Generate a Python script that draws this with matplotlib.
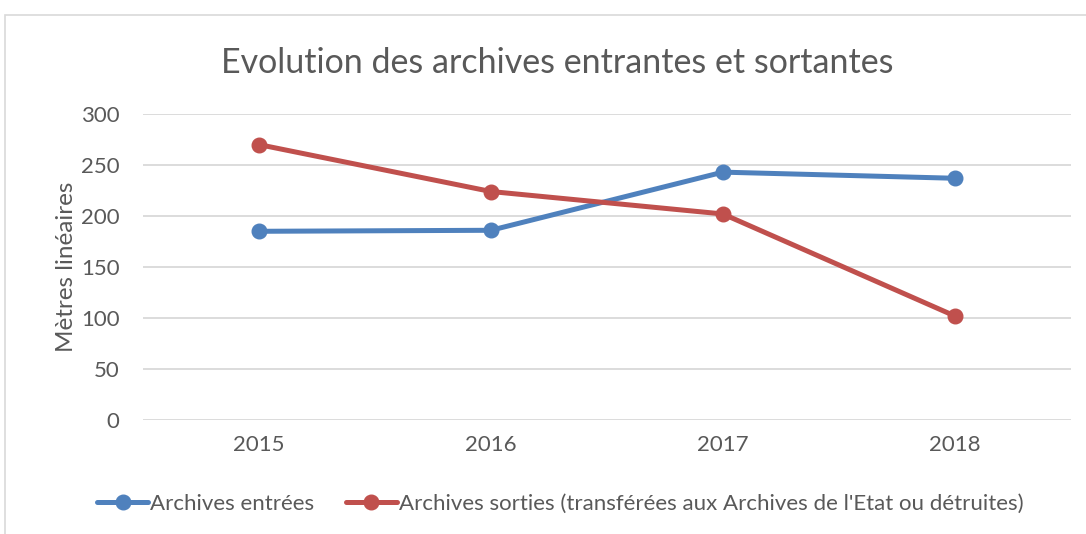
import matplotlib.pyplot as plt
from matplotlib.patches import Rectangle

# data
years = ["2015", "2016", "2017", "2018"]
entrees = [185, 186, 243, 237]
sorties = [270, 224, 202, 102]

blue = "#4f81bd"
red = "#c0504d"
txt = "#595959"

plt.rcParams["font.family"] = ["Lato", "DejaVu Sans"]

fig = plt.figure(figsize=(10.86, 5.34), dpi=100)
ax = fig.add_axes([0.1317, 0.2135, 0.8543, 0.573])

x = range(len(years))
ax.plot(x, entrees, color=blue, lw=3.6, marker="o", ms=10.5,
        label="Archives entrées", solid_capstyle="round")
ax.plot(x, sorties, color=red, lw=3.6, marker="o", ms=10.5,
        label="Archives sorties (transférées aux Archives de l'Etat ou détruites)",
        solid_capstyle="round")

ax.set_xlim(-0.5, 3.5)
ax.set_ylim(0, 300)
ax.set_yticks(range(0, 301, 50))
ax.set_xticks(list(x))
ax.set_xticklabels(years)
ax.grid(axis="y", color="#d9d9d9", lw=1.3)
ax.set_axisbelow(True)
for s in ax.spines.values():
    s.set_visible(False)
ax.tick_params(length=0, colors=txt, labelsize=16)
ax.tick_params(axis="x", pad=11)
ax.tick_params(axis="y", pad=17)

ax.set_ylabel("Mètres linéaires", color=txt, fontsize=17.5, labelpad=3)
fig.text(0.513, 0.882, "Evolution des archives entrantes et sortantes",
         ha="center", va="center", fontsize=24.5, color=txt)

fig.legend(loc="center", bbox_to_anchor=(0.516, 0.056), ncol=2, frameon=False,
           fontsize=16, labelcolor=txt, handlelength=2.3, handletextpad=0.1,
           columnspacing=1.4)

# chart frame
fig.patches.append(Rectangle((5 / 1086, -0.1), 1.2, 1 - 15 / 534 + 0.1,
                             transform=fig.transFigure, fill=False,
                             edgecolor="#d9d9d9", lw=1.2))

fig.savefig("out.png", dpi=100)
